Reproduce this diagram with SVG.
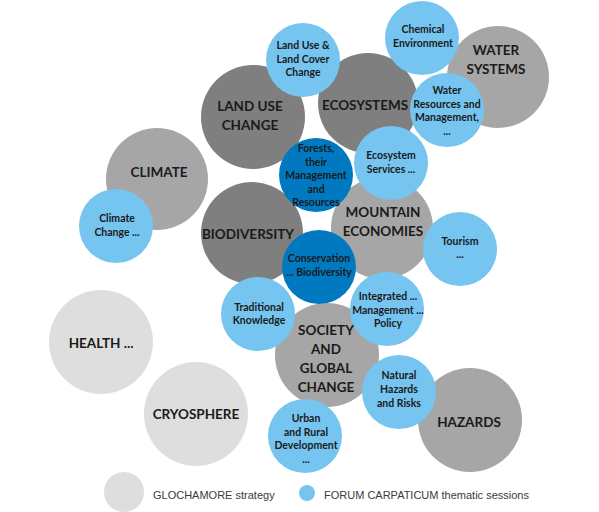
<svg xmlns="http://www.w3.org/2000/svg" width="599" height="512" viewBox="0 0 599 512">
<style>
.dk{fill:#7f7f7f}
.md{fill:#a6a6a6}
.lt{fill:#dedede}
.lb{fill:#75c5f0}
.db{fill:#0079c1}
text{font-family:Lato,"Open Sans","Liberation Sans",sans-serif;font-weight:bold;fill:#1a1a1a;text-anchor:middle}
.big{font-size:13.5px}
.sm{font-size:10.5px}
.lg{font-family:"Liberation Sans",Arial,sans-serif;font-weight:normal;font-size:11px;fill:#3a3a3a;text-anchor:start}
</style>
<rect width="599" height="512" fill="#ffffff"/>
<g id="connectors"></g>
<g id="water-systems"><circle class="md" cx="498" cy="77" r="51"/><text class="big" x="496" y="55">WATER</text><text class="big" x="496" y="74">SYSTEMS</text></g>
<g id="land-use-change"><circle class="dk" cx="253" cy="117" r="52"/><text class="big" x="250" y="111">LAND USE</text><text class="big" x="250" y="130">CHANGE</text></g>
<g id="ecosystems"><circle class="dk" cx="368" cy="103" r="50"/><text class="big" x="365" y="110">ECOSYSTEMS</text></g>
<g id="climate"><circle class="md" cx="157" cy="179" r="51"/><text class="big" x="159" y="177">CLIMATE</text></g>
<g id="biodiversity"><circle class="dk" cx="252" cy="233" r="51"/><text class="big" x="248" y="239">BIODIVERSITY</text></g>
<g id="mountain-economies"><circle class="md" cx="382" cy="228" r="51"/><text class="big" x="383" y="217">MOUNTAIN</text><text class="big" x="383" y="236">ECONOMIES</text></g>
<g id="society"><circle class="md" cx="327" cy="355" r="52"/><text class="big" x="326" y="335">SOCIETY</text><text class="big" x="326" y="354">AND</text><text class="big" x="326" y="373">GLOBAL</text><text class="big" x="326" y="392">CHANGE</text></g>
<g id="hazards"><circle class="md" cx="470" cy="420" r="52"/><text class="big" x="469" y="427">HAZARDS</text></g>
<g id="health"><circle class="lt" cx="101" cy="342" r="52"/><text class="big" x="101" y="348">HEALTH ...</text></g>
<g id="cryosphere"><circle class="lt" cx="196" cy="414" r="52"/><text class="big" x="196" y="419">CRYOSPHERE</text></g>
<g id="land-use-cover"><circle class="lb" cx="303" cy="60" r="37"/><text class="sm" x="303" y="49">Land Use &amp;</text><text class="sm" x="303" y="63">Land Cover</text><text class="sm" x="303" y="76">Change</text></g>
<g id="chemical"><circle class="lb" cx="422" cy="38" r="37"/><text class="sm" x="423" y="33">Chemical</text><text class="sm" x="423" y="47">Environment</text></g>
<g id="water-resources"><circle class="lb" cx="447" cy="110" r="37"/><text class="sm" x="447" y="94">Water</text><text class="sm" x="447" y="108">Resources and</text><text class="sm" x="447" y="121">Management,</text><text class="sm" x="447" y="135">...</text></g>
<g id="ecosystem-services"><circle class="lb" cx="391" cy="163" r="37"/><text class="sm" x="391" y="159">Ecosystem</text><text class="sm" x="391" y="173">Services ...</text></g>
<g id="forests"><circle class="db" cx="316" cy="175" r="37"/><text class="sm" x="316" y="152">Forests,</text><text class="sm" x="316" y="166">their</text><text class="sm" x="316" y="179">Management</text><text class="sm" x="316" y="193">and</text><text class="sm" x="316" y="206">Resources</text></g>
<g id="climate-change"><circle class="lb" cx="116" cy="226" r="37"/><text class="sm" x="117" y="222">Climate</text><text class="sm" x="117" y="236">Change ...</text></g>
<g id="conservation"><circle class="db" cx="319" cy="267" r="37"/><text class="sm" x="319" y="262">Conservation</text><text class="sm" x="319" y="276">... Biodiversity</text></g>
<g id="tourism"><circle class="lb" cx="460" cy="249" r="37"/><text class="sm" x="460" y="245">Tourism</text><text class="sm" x="460" y="258">...</text></g>
<g id="traditional"><circle class="lb" cx="258" cy="314" r="37"/><text class="sm" x="259" y="311">Traditional</text><text class="sm" x="259" y="324">Knowledge</text></g>
<g id="integrated"><circle class="lb" cx="387" cy="309" r="37"/><text class="sm" x="388" y="300">Integrated ...</text><text class="sm" x="388" y="314">Management ...</text><text class="sm" x="388" y="327">Policy</text></g>
<g id="natural-hazards"><circle class="lb" cx="399" cy="392" r="37"/><text class="sm" x="399" y="379">Natural</text><text class="sm" x="399" y="393">Hazards</text><text class="sm" x="399" y="407">and Risks</text></g>
<g id="urban"><circle class="lb" cx="305" cy="436" r="37"/><text class="sm" x="306" y="422">Urban</text><text class="sm" x="306" y="436">and Rural</text><text class="sm" x="306" y="449">Development</text><text class="sm" x="306" y="463">...</text></g>
<g id="legend">
<circle class="lt" cx="124" cy="492" r="20"/><text class="lg" x="153" y="499">GLOCHAMORE strategy</text>
<circle class="lb" cx="307" cy="493" r="8"/><text class="lg" x="324" y="499">FORUM CARPATICUM thematic sessions</text>
</g>
</svg>
